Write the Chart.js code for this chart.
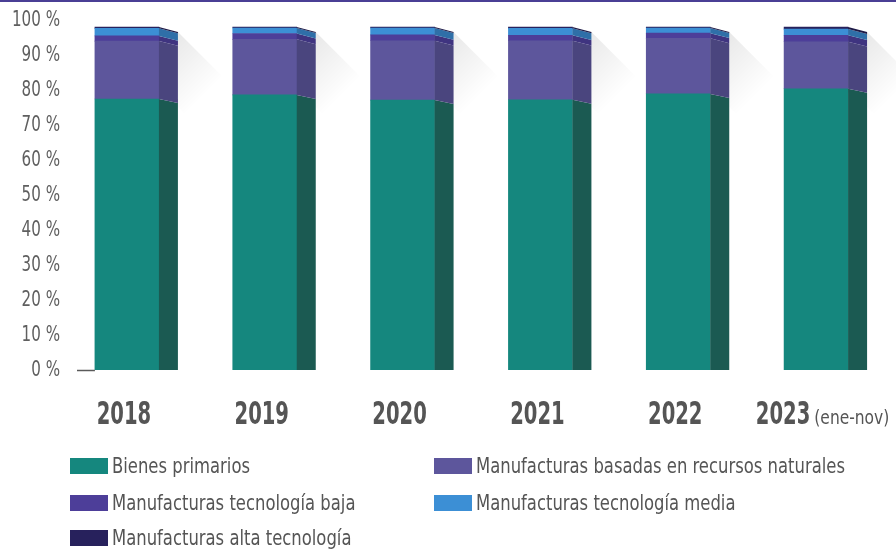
<!DOCTYPE html>
<html>
<head>
<meta charset="utf-8">
<script src="https://cdn.jsdelivr.net/npm/chart.js@4/dist/chart.umd.min.js"></script>
<style>
  html, body { margin: 0; padding: 0; background: #ffffff; }
  #wrap { position: relative; width: 896px; height: 549px; }
  #wrap::before { content: ""; position: absolute; left: 0; top: 0; width: 896px; height: 2px; background: #4a3f95; z-index: 2; }
  canvas { display: block; }
</style>
</head>
<body>
<div id="wrap"><canvas id="c" width="896" height="549"></canvas></div>
<script>
// Export structure by technological content (share of total, %)
const years = ['2018', '2019', '2020', '2021', '2022', '2023'];
const yearNotes = ['', '', '', '', '', '(ene-nov)'];

const bienesPrimarios   = [79.0, 80.2, 78.7, 78.8, 80.5, 82.0];
const basadasRecursos   = [16.9, 16.2, 17.3, 17.2, 16.2, 13.7];
const tecnologiaBaja    = [1.5, 1.7, 1.7, 1.6, 1.5, 1.9];
const tecnologiaMedia   = [2.2, 1.6, 2.0, 2.0, 1.5, 1.8];
const altaTecnologia    = [0.4, 0.3, 0.3, 0.4, 0.3, 0.6];

const seriesNames = [
  'Bienes primarios',
  'Manufacturas basadas en recursos naturales',
  'Manufacturas tecnología baja',
  'Manufacturas tecnología media',
  'Manufacturas alta tecnología'
];
const yTickValues = [0, 10, 20, 30, 40, 50, 60, 70, 80, 90, 100];

const frontColors = ['#15877e', '#5d569c', '#4d3e99', '#3c8fd5', '#27215c'];
const sideColors  = ['#1b5a52', '#4a457e', '#3f3480', '#2f6fa8', '#1d1946'];

const FONT = '"Liberation Sans Narrow", "DejaVu Sans Condensed", "Roboto Condensed", Arial, sans-serif';
const DEPTH = 19;   // width of the shaded side face
const SLOPE = 5;    // drop of the side face's top edge

const seriesValues = [bienesPrimarios, basadasRecursos, tecnologiaBaja, tecnologiaMedia, altaTecnologia];

// Text squeezed horizontally to get a narrow, tall letterform
function narrowText(ctx, text, x, y, sx, align) {
  const w = ctx.measureText(text).width * sx;
  let left = x;
  if (align === 'right') left = x - w;
  else if (align === 'center') left = x - w / 2;
  ctx.save();
  ctx.translate(left, y);
  ctx.scale(sx, 1);
  ctx.textAlign = 'left';
  ctx.fillText(text, 0, 0);
  ctx.restore();
  return w;
}

// Right-hand faces, soft shadows, axis labels, baseline stub and legend
const depthPlugin = {
  id: 'depth',
  beforeDatasetsDraw(chart) {
    const ctx = chart.ctx;
    const ys = chart.scales.yBar;
    const base = ys.getPixelForValue(0);
    const metaTop = chart.getDatasetMeta(seriesValues.length - 1);
    ctx.save();
    metaTop.data.forEach(bar => {
      const xr = bar.x + bar.width / 2 + DEPTH;
      const top = bar.y + SLOPE;
      const g = ctx.createLinearGradient(xr, top, xr + 45, top + 45);
      g.addColorStop(0, 'rgba(0,0,0,0.09)');
      g.addColorStop(1, 'rgba(0,0,0,0)');
      ctx.fillStyle = g;
      ctx.beginPath();
      ctx.moveTo(xr, top);
      ctx.lineTo(xr + 55, top + 55);
      ctx.lineTo(xr + 55, top + 130);
      ctx.lineTo(xr, top + 75);
      ctx.closePath();
      ctx.fill();
    });
    // baseline stub at the left of the plot
    const first = chart.getDatasetMeta(0).data[0];
    ctx.strokeStyle = '#5a5a5a';
    ctx.lineWidth = 1.5;
    ctx.beginPath();
    ctx.moveTo(77, base + 0.5);
    ctx.lineTo(first.x - first.width / 2, base + 0.5);
    ctx.stroke();
    ctx.restore();
  },
  afterDatasetsDraw(chart) {
    const ctx = chart.ctx;
    const ys = chart.scales.yBar;
    const base = ys.getPixelForValue(0);
    const full = base - ys.getPixelForValue(100);
    const drop = y => SLOPE * (base - y) / full;
    ctx.save();
    seriesValues.forEach((vals, i) => {
      const meta = chart.getDatasetMeta(i);
      meta.data.forEach(bar => {
        const xr = bar.x + bar.width / 2;
        const yT = bar.y, yB = bar.base;
        ctx.fillStyle = sideColors[i];
        ctx.beginPath();
        ctx.moveTo(xr, yT);
        ctx.lineTo(xr + DEPTH, yT + drop(yT));
        ctx.lineTo(xr + DEPTH, yB + drop(yB));
        ctx.lineTo(xr, yB);
        ctx.closePath();
        ctx.fill();
      });
    });
    ctx.restore();
  },
  afterDraw(chart) {
    const ctx = chart.ctx;
    const xs = chart.scales.x;
    const yAxis = chart.scales.y;
    ctx.save();
    // percentage ticks
    ctx.fillStyle = '#5f5f5f';
    ctx.font = '21px ' + FONT;
    ctx.textBaseline = 'middle';
    yAxis.ticks.forEach(t => {
      narrowText(ctx, t.value + ' %', 60, yAxis.getPixelForValue(t.value) + 1, 0.8, 'right');
    });
    // category labels (the year stays near the bar, the note trails after it)
    ctx.textBaseline = 'alphabetic';
    ctx.fillStyle = '#555555';
    years.forEach((yr, j) => {
      const cx = xs.getPixelForValue(j) - 3;
      ctx.font = 'bold 32px ' + FONT;
      const w1 = ctx.measureText(yr).width * 0.68;
      let w2 = 0;
      if (yearNotes[j]) {
        ctx.font = '20px ' + FONT;
        w2 = ctx.measureText(yearNotes[j]).width * 0.86 + 4;
      }
      const start = cx - w1 / 2 - w2 * 0.38;
      ctx.font = 'bold 32px ' + FONT;
      narrowText(ctx, yr, start, 424, 0.68, 'left');
      if (yearNotes[j]) {
        ctx.font = '20px ' + FONT;
        narrowText(ctx, yearNotes[j], start + w1 + 4, 424, 0.86, 'left');
      }
    });
    // legend in two columns
    const cols = [70, 434];
    const rows = [466, 503, 538];
    ctx.font = '22px ' + FONT;
    ctx.textBaseline = 'middle';
    seriesNames.forEach((name, i) => {
      const x = cols[i % 2];
      const y = rows[Math.floor(i / 2)];
      ctx.fillStyle = frontColors[i];
      ctx.fillRect(x, y - 8, 38, 16);
      ctx.fillStyle = '#555555';
      narrowText(ctx, name, x + 42, y + 1, 0.83, 'left');
    });
    ctx.restore();
  }
};

const datasets = seriesValues.map((vals, i) => ({
  label: seriesNames[i],
  data: vals,
  backgroundColor: frontColors[i],
  borderWidth: 0,
  barThickness: 64,
  yAxisID: 'yBar'
}));

new Chart(document.getElementById('c'), {
  type: 'bar',
  data: { labels: years, datasets },
  options: {
    responsive: false,
    animation: false,
    devicePixelRatio: 1,
    layout: { padding: { top: 20, left: 0, right: 11, bottom: 179 } },
    plugins: { legend: { display: false }, tooltip: { enabled: false } },
    scales: {
      x: {
        stacked: true,
        offset: true,
        grid: { display: false },
        border: { display: false },
        ticks: { display: false },
        afterFit: s => { s.height = 0; }
      },
      y: {
        position: 'left',
        min: 0,
        max: 100,
        afterBuildTicks: s => { s.ticks = yTickValues.map(v => ({ value: v })); },
        grid: { display: false, drawTicks: false },
        border: { display: false },
        ticks: { display: false },
        afterFit: s => { s.width = 58; }
      },
      yBar: {
        display: false,
        stacked: true,
        min: 0,
        max: 100 * 350 / 343
      }
    }
  },
  plugins: [depthPlugin]
});
</script>
</body>
</html>
